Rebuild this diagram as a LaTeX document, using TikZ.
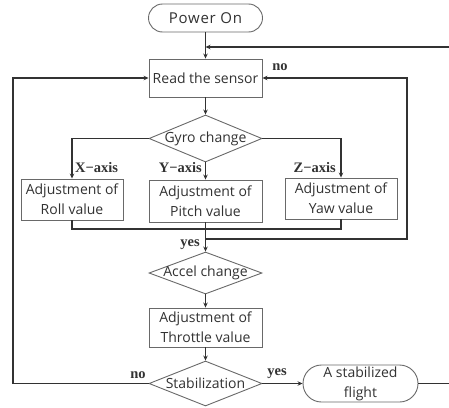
\documentclass[tikz,border=0pt]{standalone}
\usepackage{fontspec}
\setmainfont{Open Sans}
\newfontfamily\tagfont{Liberation Serif}
\newfontfamily\powerfont[LetterSpace=5]{Open Sans}
\definecolor{ink}{RGB}{50,50,50}
\definecolor{frame}{RGB}{105,105,105}
\usetikzlibrary{arrows.meta,positioning,shapes.geometric,shapes.misc}
\tikzset{
  box/.style={draw=frame, fill=white, line width=0.9pt, text=ink, inner sep=0pt,
              font=\fontsize{14}{20}\selectfont, align=center},
  choice/.style={box, diamond, aspect=2.4, inner sep=-3pt, minimum width=113pt},
  term/.style={box, rounded rectangle},
  flow/.style={-{Stealth[length=5pt,width=4.5pt]}, ink, line width=1.1pt},
  wire/.style={ink, line width=1.1pt},
  tag/.style={font=\tagfont\bfseries\fontsize{14.5}{14.5}\selectfont, text=ink, inner sep=1pt},
}

\begin{document}
\begin{tikzpicture}[x=1pt,y=-1pt]
  \useasboundingbox (0,0) rectangle (449,407);
  \node[term,minimum width=114pt,minimum height=28pt] (power) at (205.5,18) {\powerfont\fontsize{15}{15}\selectfont Power On};
  \node[box,minimum width=113pt,minimum height=38pt] (read) at (205.5,78) {Read the sensor};
  \node[choice,minimum height=47pt] (gyro) at (205.5,138.5) {Gyro change};
  \node[box,minimum width=102pt,minimum height=41pt] (roll) at (72,199.5) {Adjustment of\\Roll value};
  \node[box,minimum width=113pt,minimum height=42pt] (pitch) at (205.5,201) {Adjustment of\\Pitch value};
  \node[box,minimum width=112pt,minimum height=41pt] (yaw) at (341,198.5) {Adjustment of\\Yaw value};
  \node[choice,minimum height=42pt] (accel) at (205.5,273) {Accel change};
  \node[box,minimum width=113pt,minimum height=39pt] (throttle) at (205.5,327.5) {Adjustment of\\Throttle value};
  \node[choice,minimum height=45pt] (stab) at (205.5,383.5) {Stabilization};
  \node[term,minimum width=115pt,minimum height=37pt] (flight) at (360.5,383.5) {A stabilized\\flight};

  % bends of the loops
  \coordinate (merge) at (205.5,47);
  \coordinate (offpage) at (454,383.5);
  \coordinate (sum) at (205.5,229);
  \coordinate (back) at (205.5,239);
  \coordinate (rightturn) at (407,239);
  \coordinate (leftturn) at (13,383.5);

  \draw[flow] (power.south) -- (read.north);
  \draw[flow] (flight.east) -- (offpage) |- (merge);
  \draw[flow] (read.south) -- (gyro.north);
  \draw[flow] (gyro.west) -| (roll.north);
  \draw[flow] (gyro.south) -- (pitch.north);
  \draw[flow] (gyro.east) -| (yaw.north);
  \draw[wire] (roll.south) |- (sum) -| (yaw.south);
  \draw[flow] (pitch.south) -- (accel.north);
  \draw[flow] (back) -- (rightturn) |- (read.east);
  \draw[flow] (accel.south) -- (throttle.north);
  \draw[flow] (throttle.south) -- (stab.north);
  \draw[flow] (stab.east) -- (flight.west);
  \draw[flow] (stab.west) -- (leftturn) |- (read.west);

  \node[tag,anchor=west] (xaxis) at (74,168) {X−axis};
  \node[tag,anchor=east] (yaxis) at (203,168) {Y−axis};
  \node[tag,anchor=east] (zaxis) at (337,168) {Z−axis};
  \node[tag] (noread) at (280,67) {no};
  \node[tag,anchor=east] (yesgyro) at (201,245) {yes};
  \node[tag] (nostab) at (138,375) {no};
  \node[tag] (yesstab) at (277,374) {yes};
\end{tikzpicture}
\end{document}
